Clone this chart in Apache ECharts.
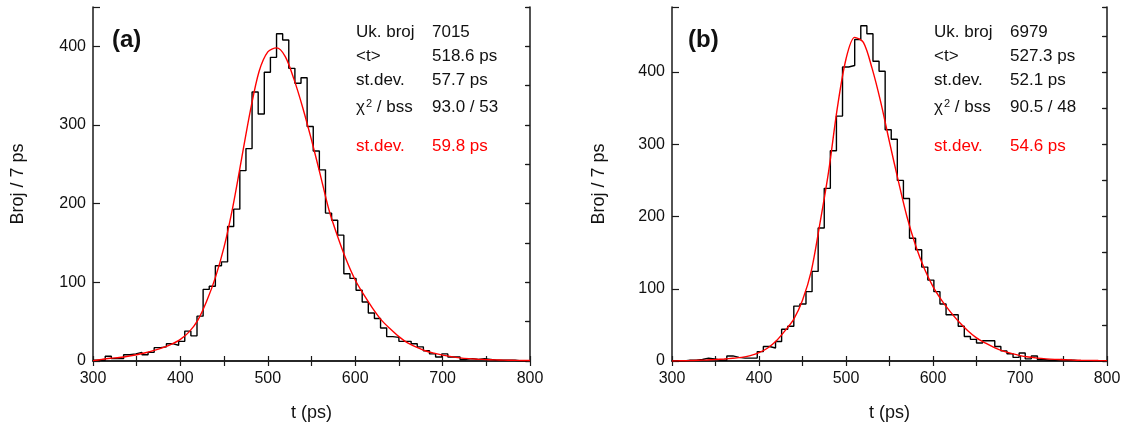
<!DOCTYPE html>
<html><head><meta charset="utf-8">
<script src="https://cdn.jsdelivr.net/npm/echarts@6/dist/echarts.min.js"></script>
<style>html,body{margin:0;padding:0;background:#fff}#c{width:1128px;height:428px}</style>
</head><body><div id="c"></div>
<script>
// ---------- data ----------
const binStart = 300;   // left edge of first bin (ps)
const binWidth = 7;     // ps
const countsA = [1,1,6,3,3,8,9,11,8,11,
  17,18,22,20,25,38,32,57,91,95,
  121,126,171,193,242,270,342,314,367,386,
  416,408,372,353,360,298,267,243,188,179,
  160,111,105,90,75,61,54,42,31,30,
  25,25,22,18,13,9,5,9,5,5,
  2,3,2,3,2,1,1,1,1,0,0];
const countsB = [0,0,1,1,2,4,3,1,1,7,
  5,4,4,4,13,20,18,27,44,48,
  76,79,96,124,184,239,291,339,407,409,
  445,464,453,415,401,320,307,250,225,170,
  154,130,112,96,79,64,64,48,34,30,
  25,28,28,20,14,10,5,11,3,7,
  2,1,1,2,1,1,0,0,0,0,0];
const fitT = [300,310,320,330,340,350,360,370,380,390,
  400,410,420,430,440,450,460,470,480,490,
  500,510,520,530,540,550,560,570,580,590,
  600,610,620,630,640,650,660,670,680,690,
  700,710,720,730,740,750,760,770,780,790,800];
const fitA = [0.5,2,3.5,4.5,6,8,10.5,13.5,17,21.5,
  27.5,37,52,76,106,145,196,257,318,368,
  393,398,387,358,322,281,237,192,158,128,
  103,84,67,52,41,31,23,17.5,13,10,
  7.5,5.5,4,3,2.3,1.8,1.4,1.1,0.9,0.7,0.6];
const fitB = [0,0.3,0.6,1,1.4,2,2.8,3.8,5,7.5,
  11.5,18,28,42,58,84,124,190,262,350,
  418,448,441,405,358,303,250,200,160,128,
  103,84,68,54,42,32,25,19,14,10.5,
  7.5,5.5,4,3,2.3,1.8,1.3,1,0.8,0.6,0.5];
const yMaxA = 450, yMaxB = 490;
const panelLabels = ['(a)', '(b)'];
const statLabels = ['Uk. broj', '<t>', 'st.dev.', '{c|χ}{s|2}{n| / bss}'];
const statsA = ['7015', '518.6 ps', '57.7 ps', '93.0 / 53'];
const statsB = ['6979', '527.3 ps', '52.1 ps', '90.5 / 48'];
const fitLabel = 'st.dev.';
const fitSdA = '59.8 ps';
const fitSdB = '54.6 ps';
const xName = 't (ps)';
const yName = 'Broj / 7 ps';

// ---------- build ----------
const FONT = "'Liberation Sans', Arial, Helvetica, sans-serif";
const AX = '#1a1a1a';
function stepData(counts) {
  const d = counts.map((v, i) => [binStart + i * binWidth, v]);
  d.push([binStart + counts.length * binWidth, counts[counts.length - 1]]);
  return d;
}
function fitData(vals) { return fitT.map((t, i) => [t, vals[i]]); }

const grids = [
  { left: 93, right: 598, top: 7, bottom: 67, outerBoundsMode: 'none' },
  { left: 672, right: 21, top: 7, bottom: 67, outerBoundsMode: 'none' }
];
const xAxes = [], yAxes = [];
const yMax = [yMaxA, yMaxB];
const nameGapY = [66, 64];
for (let g = 0; g < 2; g++) {
  xAxes.push({
    gridIndex: g, type: 'value', min: 300, max: 800, interval: 50, position: 'bottom',
    axisLine: { show: true, lineStyle: { color: AX, width: 1.5 } },
    axisTick: { show: true, inside: true, length: 5, lineStyle: { color: AX, width: 1.2 } },
    axisLabel: { formatter: v => (v % 100 === 0 ? String(v) : ''), fontSize: 16, fontFamily: FONT, color: '#111', margin: 10 },
    splitLine: { show: false },
    name: xName, nameLocation: 'middle', nameGap: 43,
    nameTextStyle: { fontSize: 18, fontFamily: FONT, color: '#111' }
  });
  xAxes.push({
    gridIndex: g, type: 'value', min: 300, max: 800, interval: 50, position: 'top',
    axisLine: { show: true, lineStyle: { color: AX, width: 1.5 } },
    axisTick: { show: true, inside: true, length: 5, lineStyle: { color: AX, width: 1.2 } },
    axisLabel: { show: false }, splitLine: { show: false }
  });
  yAxes.push({
    gridIndex: g, type: 'value', min: 0, max: yMax[g], interval: 100, position: 'left',
    axisLine: { show: true, lineStyle: { color: AX, width: 1.5 } },
    axisTick: { show: true, inside: true, length: 7, lineStyle: { color: AX, width: 1.2 } },
    axisLabel: { formatter: v => (v % 100 === 0 ? String(v) : ''), fontSize: 16, fontFamily: FONT, color: '#111', margin: 7 },
    splitLine: { show: false },
    name: yName, nameLocation: 'middle', nameGap: nameGapY[g],
    nameTextStyle: { fontSize: 18, fontFamily: FONT, color: '#111' }
  });
  yAxes.push({
    gridIndex: g, type: 'value', min: 0, max: yMax[g], interval: 50, position: 'right',
    axisLine: { show: true, lineStyle: { color: AX, width: 1.5 } },
    axisTick: { show: true, inside: true, length: 5, lineStyle: { color: AX, width: 1.2 } },
    axisLabel: { show: false }, splitLine: { show: false }
  });
  yAxes.push({
    gridIndex: g, type: 'value', min: 0, max: yMax[g], interval: 50, position: 'right',
    axisLine: { show: false },
    axisTick: { show: true, inside: true, length: 4, lineStyle: { color: AX, width: 1.2 } },
    axisLabel: { show: false }, splitLine: { show: false }
  });
}

const series = [];
[[countsA, fitA], [countsB, fitB]].forEach(([c, f], g) => {
  series.push({
    type: 'line', xAxisIndex: g * 2, yAxisIndex: g * 3, data: stepData(c), step: 'end',
    symbol: 'none', lineStyle: { color: '#000', width: 1.4 }, z: 2, silent: true
  });
  series.push({
    type: 'line', xAxisIndex: g * 2, yAxisIndex: g * 3, data: fitData(f), smooth: 0.3,
    symbol: 'none', lineStyle: { color: '#ff0000', width: 1.4 }, z: 3, silent: true
  });
});

const graphics = [];
const panelX = [112, 688];
const col1 = [356, 934], col2 = [432, 1010];
const rowY = [32, 56, 80, 107];
const fitRowY = 146;
const statsVals = [statsA, statsB];
const fitSd = [fitSdA, fitSdB];
const rich = {
  c: { fontSize: 17, fontFamily: FONT, fill: '#111' },
  s: { fontSize: 11, fontFamily: FONT, fill: '#111', verticalAlign: 'top', padding: [0, 0, 6, 1] },
  n: { fontSize: 17, fontFamily: FONT, fill: '#111' }
};
for (let g = 0; g < 2; g++) {
  graphics.push({ type: 'text', x: panelX[g], y: 40, style: { text: panelLabels[g], font: 'bold 24px ' + FONT, fill: '#111', verticalAlign: 'middle' } });
  statLabels.forEach((lab, i) => {
    graphics.push({ type: 'text', x: col1[g], y: rowY[i], style: { text: lab, font: '17px ' + FONT, fill: '#111', verticalAlign: 'middle', rich: rich } });
    graphics.push({ type: 'text', x: col2[g], y: rowY[i], style: { text: statsVals[g][i], font: '17px ' + FONT, fill: '#111', verticalAlign: 'middle' } });
  });
  graphics.push({ type: 'text', x: col1[g], y: fitRowY, style: { text: fitLabel, font: '17px ' + FONT, fill: '#ff0000', verticalAlign: 'middle' } });
  graphics.push({ type: 'text', x: col2[g], y: fitRowY, style: { text: fitSd[g], font: '17px ' + FONT, fill: '#ff0000', verticalAlign: 'middle' } });
}

const chart = echarts.init(document.getElementById('c'), null, { renderer: 'canvas' });
chart.setOption({
  animation: false,
  backgroundColor: '#fff',
  textStyle: { fontFamily: FONT },
  grid: grids, xAxis: xAxes, yAxis: yAxes, series: series, graphic: graphics
});
</script></body></html>
